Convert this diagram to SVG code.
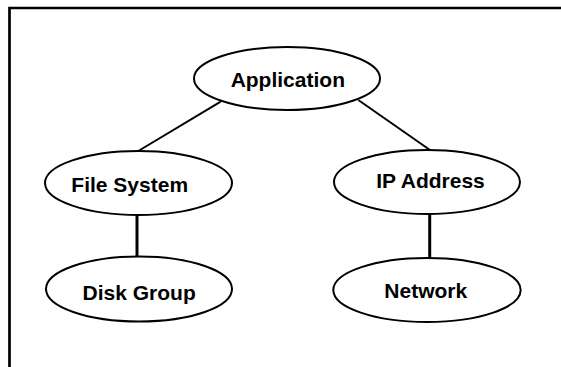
<svg xmlns="http://www.w3.org/2000/svg" width="561" height="367" viewBox="0 0 561 367">
<style>
.node ellipse{fill:#fff;stroke:#000;stroke-width:2}
.node text{font-family:"Liberation Sans",Arial,sans-serif;font-weight:bold;font-size:21px;fill:#000;text-anchor:middle}
.edge{stroke:#000;fill:none}
.diag{stroke-width:2}
.vert{stroke-width:3}
.frame{stroke:#000;stroke-width:2.7;fill:none}
</style>
<rect width="561" height="367" fill="#fff"/>
<path class="frame" d="M9.5 367 V8 H561"/>
<g id="connectors">
<line class="edge diag" x1="220.7" y1="101.7" x2="138.3" y2="151"/>
<line class="edge diag" x1="358.3" y1="100" x2="430.7" y2="150.5"/>
<line class="edge vert" x1="137" y1="215" x2="137" y2="257"/>
<line class="edge vert" x1="429.7" y1="214" x2="429.7" y2="258.5"/>
</g>
<g id="node-application" class="node">
<ellipse cx="287" cy="78.5" rx="93" ry="31.5"/>
<text x="287.8" y="86.7">Application</text>
</g>
<g id="node-filesystem" class="node">
<ellipse cx="138.5" cy="183" rx="93.5" ry="32"/>
<text x="129.7" y="191.7">File System</text>
</g>
<g id="node-ipaddress" class="node">
<ellipse cx="427" cy="182" rx="93" ry="32"/>
<text x="430.5" y="188.3">IP Address</text>
</g>
<g id="node-diskgroup" class="node">
<ellipse cx="139" cy="289" rx="93" ry="32.5"/>
<text x="139.2" y="300">Disk Group</text>
</g>
<g id="node-network" class="node">
<ellipse cx="427" cy="290" rx="93.7" ry="32"/>
<text x="425.8" y="298.3">Network</text>
</g>
</svg>
